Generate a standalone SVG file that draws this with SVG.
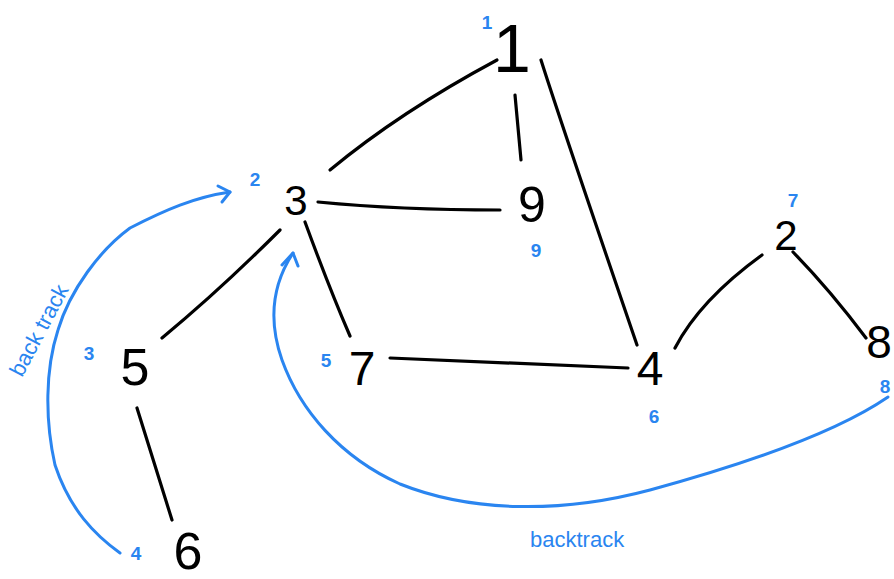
<svg xmlns="http://www.w3.org/2000/svg" width="894" height="579" viewBox="0 0 894 579">
<style>
.edge{fill:none;stroke:#000;stroke-width:3.2;stroke-linecap:round;stroke-linejoin:round}
.bt{fill:none;stroke:#2a85f0;stroke-width:3;stroke-linecap:round;stroke-linejoin:round}
.n{font-family:"Liberation Sans","DejaVu Sans",sans-serif;fill:#000;text-anchor:middle}
.o{font-family:"Liberation Sans","DejaVu Sans",sans-serif;fill:#2a85f0;text-anchor:middle;font-weight:bold;font-size:19px}
.lbl{font-family:"Liberation Sans","DejaVu Sans",sans-serif;fill:#2a85f0;font-size:22px}
</style>
<rect width="894" height="579" fill="#fff"/>
<g id="connectors">
<path class="edge" d="M330,170 Q400,112 497,60"/>
<path class="edge" d="M515,95 L521,160"/>
<path class="edge" d="M541,60 Q560,120 637,345"/>
<path class="edge" d="M318,202 Q400,210 500,210"/>
<path class="edge" d="M280,230 Q220,290 162,338"/>
<path class="edge" d="M305,222 Q330,290 350,336"/>
<path class="edge" d="M390,358 L628,368"/>
<path class="edge" d="M675,348 Q700,300 762,255"/>
<path class="edge" d="M793,252 Q830,290 866,338"/>
<path class="edge" d="M137,408 L172,520"/>
<path class="bt" d="M120,553 C95,535 70,510 55,465 C45,420 45,370 58,330 C70,290 100,250 130,228 C165,210 195,197 230,192"/>
<path class="bt" d="M218,186 L230,192 L222,202"/>
<path class="bt" d="M888,397 C840,430 760,460 650,490 C560,514 470,512 400,484 C340,457 300,410 282,360 C268,320 272,285 293,253"/>
<path class="bt" d="M282,265 L293,253 L298,266"/>
</g>
<g id="n1"><text class="n" x="512" y="72" font-size="68">1</text><text class="o" x="487" y="29">1</text></g>
<g id="n3"><text class="n" x="296" y="215" font-size="42">3</text><text class="o" x="255" y="186">2</text></g>
<g id="n5"><text class="n" x="135" y="385" font-size="52">5</text><text class="o" x="89" y="360">3</text></g>
<g id="n6"><text class="n" x="188" y="569" font-size="52">6</text><text class="o" x="136" y="560">4</text></g>
<g id="n7"><text class="n" x="362" y="385" font-size="48">7</text><text class="o" x="326" y="367">5</text></g>
<g id="n4"><text class="n" x="650" y="385" font-size="48">4</text><text class="o" x="654" y="423">6</text></g>
<g id="n2"><text class="n" x="786" y="250" font-size="42">2</text><text class="o" x="793" y="207">7</text></g>
<g id="n8"><text class="n" x="879" y="358" font-size="46">8</text><text class="o" x="885" y="393">8</text></g>
<g id="n9"><text class="n" x="532" y="222" font-size="50">9</text><text class="o" x="536" y="257">9</text></g>
<text class="lbl" x="0" y="0" transform="translate(22,378) rotate(-62)">back track</text>
<text class="lbl" x="530" y="547">backtrack</text>
</svg>
